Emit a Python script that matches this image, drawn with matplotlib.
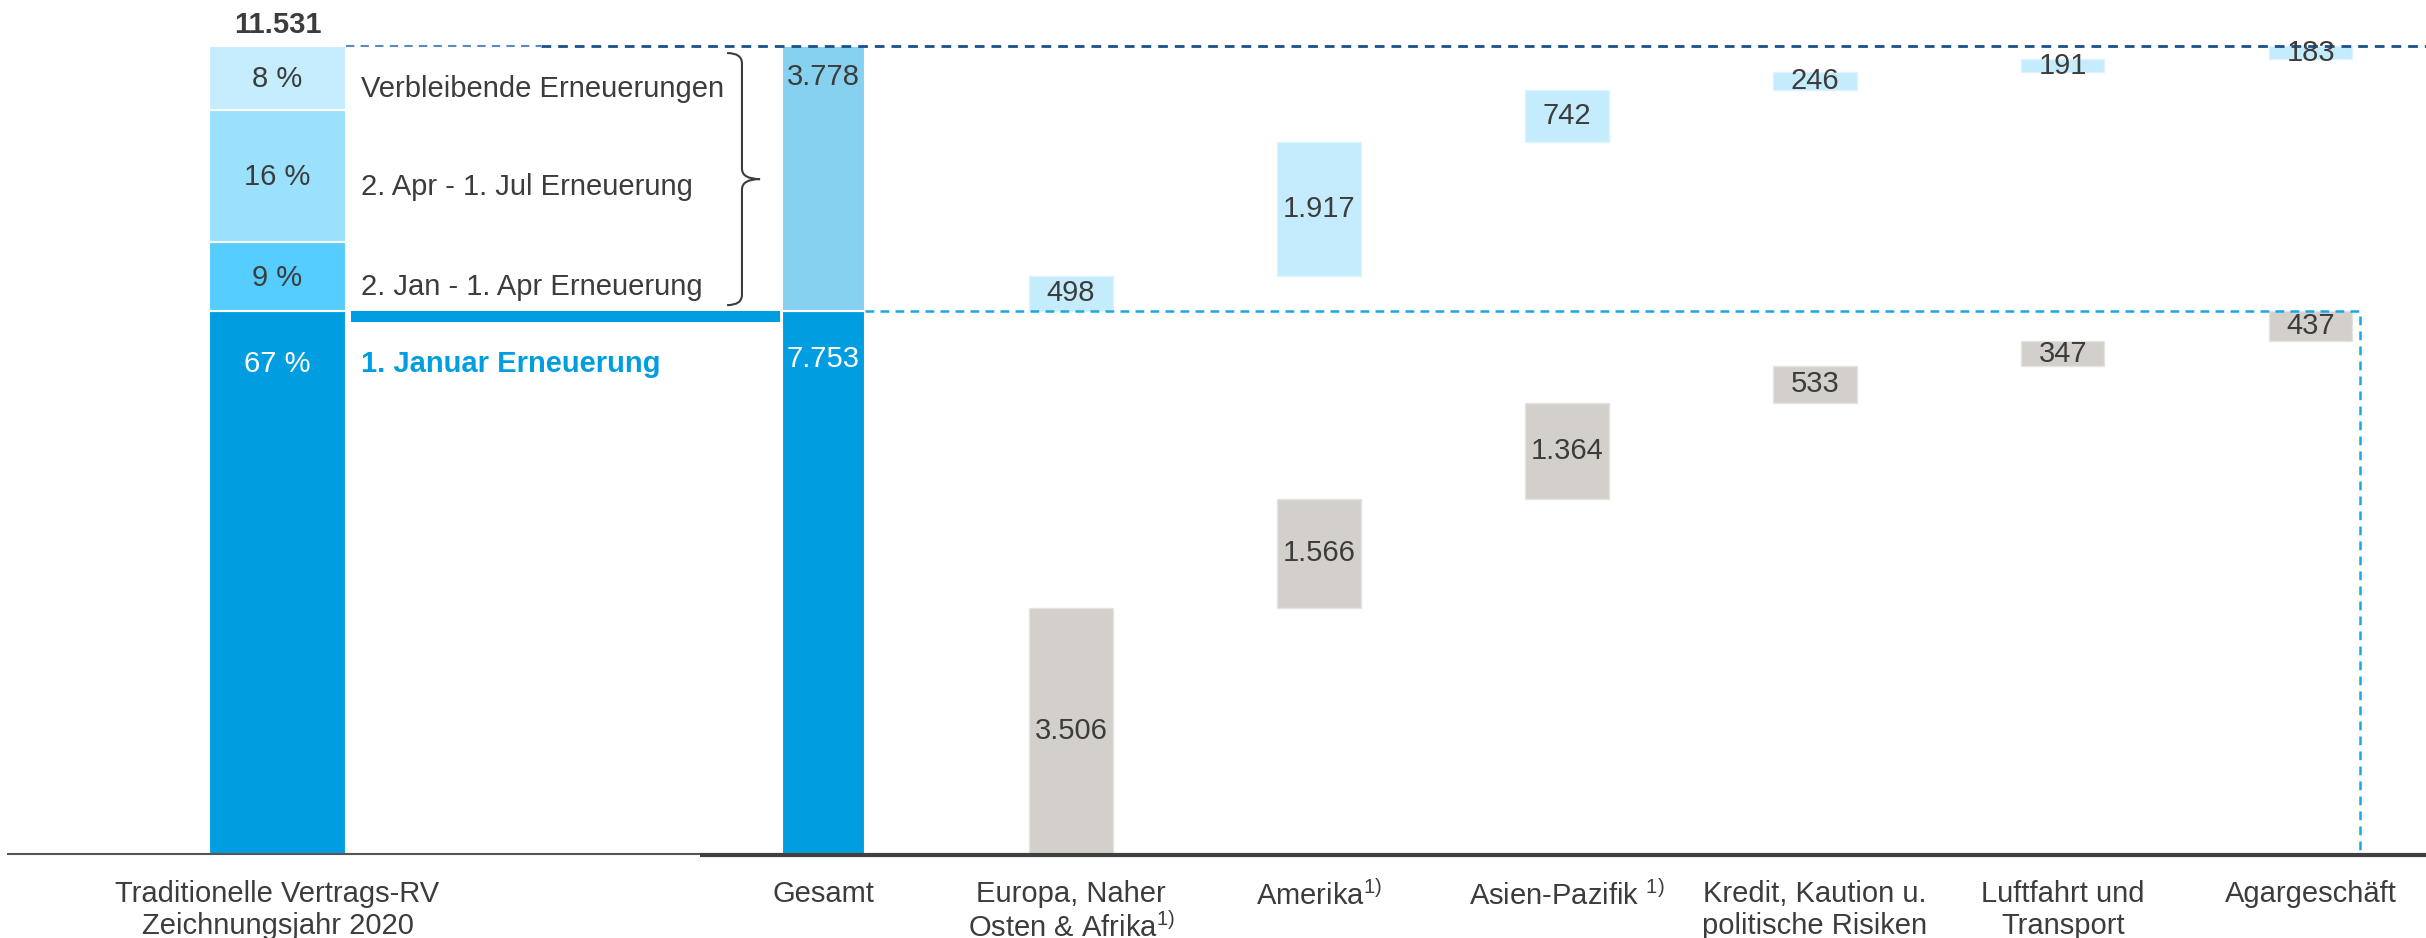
import matplotlib.pyplot as plt
from matplotlib.path import Path
from matplotlib.patches import PathPatch
import numpy as np

plt.rcParams['font.family'] = ['Liberation Sans', 'DejaVu Sans']
plt.rcParams['mathtext.fontset'] = 'custom'
plt.rcParams['mathtext.rm'] = 'Liberation Sans'

# Traditional treaty reinsurance, underwriting year 2020 (EUR m)
total = 11531
renewal_names = ['1. Januar Erneuerung', '2. Jan - 1. Apr Erneuerung',
                 '2. Apr - 1. Jul Erneuerung', 'Verbleibende Erneuerungen']
renewal_volume = [7753, 981, 1884, 913]
renewal_colors = ['#009EE0', '#55CDFF', '#9BE1FD', '#C5EDFD']

gesamt = [7753, 3778]

segments = ['Europa, Naher\nOsten & Afrika$^{1)}$', 'Amerika$^{1)}$',
            'Asien-Pazifik $^{1)}$', 'Kredit, Kaution u.\npolitische Risiken',
            'Luftfahrt und\nTransport', 'Agargeschäft']
renewed_jan = [3506, 1566, 1364, 533, 347, 437]
remaining = [498, 1917, 742, 246, 191, 183]

TXT = '#3C3C3C'
BLUE = '#009EE0'
FS = 21


def fmt(v):
    return f'{v:,}'.replace(',', '.')


fig = plt.figure(figsize=(24.26, 9.38), dpi=100)
ax = fig.add_axes([0, 0, 1, 1])
ax.set_xlim(-3.319, 6.464)
ax.set_ylim(-1199, 12188)
ax.axis('off')

# --- left stacked bar: split by renewal date ---
x0, w0 = -2.2, 0.556
text_x = -1.863
bottom = 0
for i, (name, v, c) in enumerate(zip(renewal_names, renewal_volume, renewal_colors)):
    ax.bar(x0, v, w0, bottom=bottom, color=c, edgecolor='white', linewidth=1.5)
    pct = f'{round(v / total * 100)} %'
    if i == 0:
        ax.annotate(pct, (x0, bottom + v), xytext=(0, -38), textcoords='offset points',
                    ha='center', va='center', color='white', fontsize=FS)
        ax.annotate(name, (text_x, bottom + v), xytext=(0, -38), textcoords='offset points',
                    ha='left', va='center', color=BLUE, fontsize=FS, fontweight='bold')
    else:
        ax.annotate(pct, (x0, bottom + v / 2), xytext=(0, -1), textcoords='offset points',
                    ha='center', va='center', color=TXT, fontsize=FS)
        ax.annotate(name, (text_x, bottom + v / 2), xytext=(0, -8), textcoords='offset points',
                    ha='left', va='center', color=TXT, fontsize=FS)
    bottom += v

ax.annotate(fmt(total), (x0, total), xytext=(0, 15), textcoords='offset points',
            ha='center', va='center', color=TXT, fontsize=FS, fontweight='bold')

# separator under the January renewal
w = 0.335
sep_left = x0 + w0 / 2 + 0.02
sep_right = -w / 2 - 0.006
ax.barh(renewal_volume[0] - 85, sep_right - sep_left, height=150, left=sep_left,
        color=BLUE)

# brace around the later renewals
xh, xv, xt = -0.387, -0.327, -0.254
top, bot = total - 100, renewal_volume[0] + 80
mid = (top + bot) / 2
r = 150
verts = [(xh, top), (xv, top), (xv, top - r), (xv, mid + r), (xv, mid), (xt, mid),
         (xt, mid), (xv, mid), (xv, mid - r), (xv, bot + r), (xv, bot), (xh, bot)]
codes = [Path.MOVETO, Path.CURVE3, Path.CURVE3, Path.LINETO, Path.CURVE3, Path.CURVE3,
         Path.MOVETO, Path.CURVE3, Path.CURVE3, Path.LINETO, Path.CURVE3, Path.CURVE3]
ax.add_patch(PathPatch(Path(verts, codes), fill=False, edgecolor=TXT, linewidth=1.5))

# --- Gesamt ---
ax.bar(0, gesamt[0], w, color=BLUE, edgecolor='white', linewidth=1.5)
ax.bar(0, gesamt[1], w, bottom=gesamt[0], color='#87D1F0', edgecolor='white', linewidth=1.5)
ax.annotate(fmt(gesamt[0]), (0, gesamt[0]), xytext=(0, -35), textcoords='offset points',
            ha='center', va='center', color='white', fontsize=FS)
ax.annotate(fmt(gesamt[1]), (0, sum(gesamt)), xytext=(0, -22), textcoords='offset points',
            ha='center', va='center', color=TXT, fontsize=FS)

# --- waterfall by segment ---
xs = np.arange(1, len(segments) + 1)
jan_bottom = np.concatenate([[0], np.cumsum(renewed_jan)[:-1]])
rem_bottom = gesamt[0] + np.concatenate([[0], np.cumsum(remaining)[:-1]])
ax.bar(xs, renewed_jan, w, bottom=jan_bottom, color='#D3D0CB', edgecolor='#E6E4E1', linewidth=1)
ax.bar(xs, remaining, w, bottom=rem_bottom, color='#C5ECFC', edgecolor='#DDF4FD', linewidth=1)
for x, v, b in zip(xs, renewed_jan, jan_bottom):
    ax.text(x, b + v / 2, fmt(v), ha='center', va='center', color=TXT, fontsize=FS)
for x, v, b in zip(xs, remaining, rem_bottom):
    ax.text(x, b + v / 2, fmt(v), ha='center', va='center', color=TXT, fontsize=FS)

# reference lines
ax.plot([x0 + w0 / 2, -1.137], [total, total], color='#5A8AC0', lw=1.5,
        linestyle=(0, (4, 3)))
ax.plot([-1.137, 6.464], [total, total], color='#1B4F8A', lw=2, linestyle=(0, (3.5, 2.5)))
xr = xs[-1] + w / 2 + 0.03
ax.plot([w / 2, xr, xr], [gesamt[0], gesamt[0], 0], color='#1AA7E6', lw=1.8,
        linestyle=(0, (3.5, 2.5)))

# baseline
ax.plot([-3.29, -0.496], [0, 0], color='#555555', lw=1.5, solid_capstyle='butt')
ax.plot([-0.496, 6.464], [-20, -20], color='#404040', lw=3, solid_capstyle='butt')

# category labels
labels = ['Traditionelle Vertrags-RV\nZeichnungsjahr 2020', 'Gesamt'] + segments
label_x = [x0, 0] + list(xs)
for x, lab in zip(label_x, labels):
    ax.annotate(lab, (x, 0), xytext=(0, -19), textcoords='offset points',
                ha='center', va='top', color=TXT, fontsize=FS, linespacing=1.15)

fig.savefig('out.png', dpi=100)
